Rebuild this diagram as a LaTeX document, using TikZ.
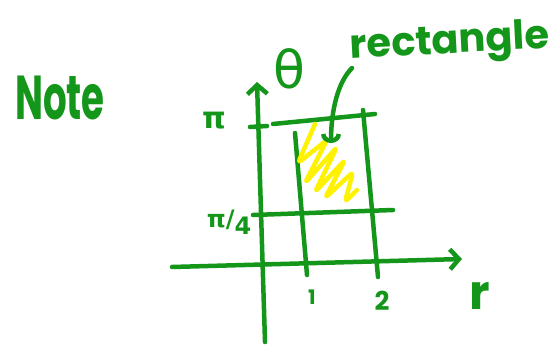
\documentclass[tikz,border=0pt]{standalone}
\usepackage{fontspec}
\usepackage{graphicx}
\setmainfont{Poppins}
\newfontfamily\greekhand{DejaVu Sans}
\usetikzlibrary{arrows.meta}
\definecolor{inkgreen}{HTML}{14961A}
\definecolor{hiyellow}{HTML}{FFF200}

\tikzset{
  ink/.style={inkgreen,line width=4.5pt,line cap=round,line join=round},
  hilite/.style={hiyellow,line width=4.5pt,line cap=round,line join=round,rounded corners=4pt},
  axisarrow/.style={-{Straight Barb[length=9pt,width=20pt]}},
  hand/.style={inkgreen,inner sep=0pt}
}

\begin{document}
\begin{tikzpicture}[x=1pt,y=-1pt]
    % bbox is the whole 555x345 sheet, y runs downward
    \useasboundingbox (0,0) rectangle (555,345);

    % heading on the left
    \node[hand] (note) at (60,98) {\fontsize{62}{62}\selectfont\bfseries\scalebox{0.6}[1]{Note}};

    % r axis and theta axis
    \coordinate (rstart) at (172,267);
    \coordinate (rtip) at (462,259);
    \coordinate (thstart) at (265,342);
    \coordinate (thtip) at (257,82);
    \draw[ink,axisarrow] (rstart) -- (rtip);
    \draw[ink,axisarrow] (thstart) -- (thtip);
    \node[hand] (rlbl) at (480,296) {\fontsize{48}{48}\selectfont\bfseries r};
    \node[hand] (thlbl) at (289,69) {\fontsize{52}{52}\selectfont\greekhand θ};

    % grid lines: pi tick, theta=pi, theta=pi/4, r=1, r=2
    \foreach \xa/\ya/\xb/\yb in {250/127/267/126, 273/124/375/114, 253/215/393/210, 295/133/307/275, 363/110/378/277}
      \draw[ink] (\xa,\ya) -- (\xb,\yb);

    % tick labels
    \node[hand] (pilbl) at (214,121) {\fontsize{30}{30}\selectfont\greekhand\bfseries π};
    \node[hand] (pi4lbl) at (229,222) {\fontsize{24}{24}\selectfont\greekhand\bfseries π/\raisebox{-7pt}{4}};
    \node[hand] (onelbl) at (312,297) {\fontsize{20}{20}\selectfont\bfseries 1};
    \node[hand] (twolbl) at (382,301) {\fontsize{26}{26}\selectfont\bfseries 2};

    % shaded scribble inside the region
    \draw[hilite] (315,124) -- (298,163) -- (327,140) -- (305,183) -- (337,147) -- (315,192)
      -- (345,160) -- (325,198) -- (353,172) -- (345,202) -- (357,190);

    % callout
    \node[hand,rotate=3] (rectlbl) at (450,44) {\fontsize{40}{40}\selectfont\bfseries rectangle};
    \coordinate (callstart) at (352,68);
    \coordinate (calltip) at (331,143);
    \draw[ink,-{Arc Barb[length=9pt,width=20pt]}] (callstart) .. controls (338,82) and (331,110) .. (calltip);
  \end{tikzpicture}
\end{document}
